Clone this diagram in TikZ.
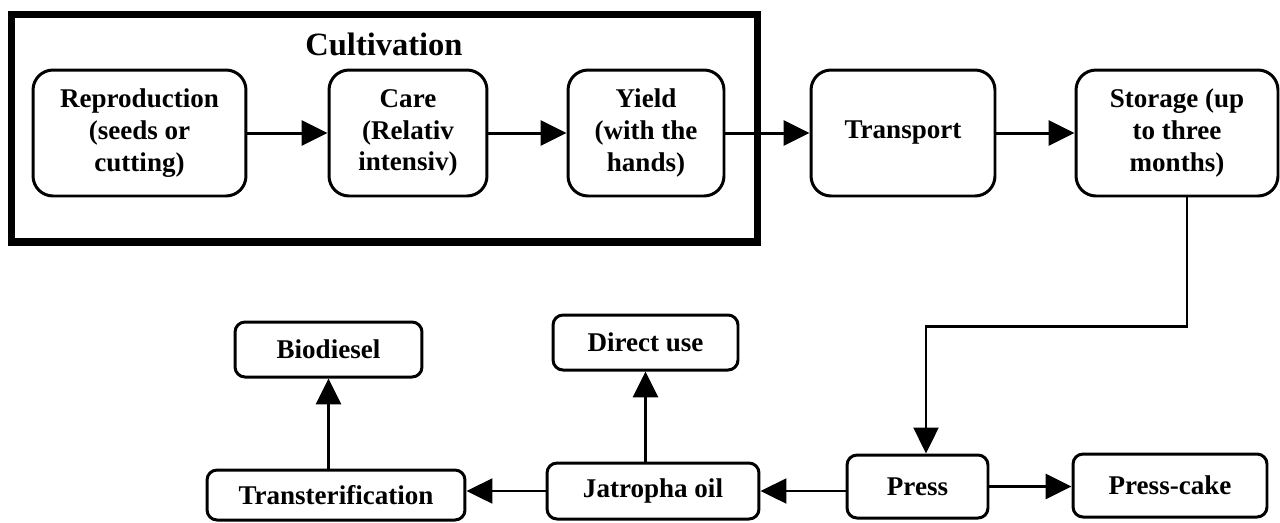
\documentclass[tikz,border=0pt]{standalone}
\usepackage{fontspec}
\setmainfont{Liberation Serif}
\usetikzlibrary{arrows.meta}

\begin{document}
\begin{tikzpicture}[x=0.02cm,y=-0.02cm,
  boxtext/.style={font=\fontsize{15.4}{18.1}\selectfont\bfseries},
  topbox/.style={draw=black, line width=1.7pt, rounded corners=0.4cm, align=center, minimum height=2.52cm, boxtext},
  lowbox/.style={draw=black, line width=1.7pt, rounded corners=0.2cm, align=center, boxtext},
  flow/.style={black, line width=1.7pt, -{Triangle[length=0.52cm,width=0.5cm]}},
  thinflow/.style={flow, line width=1.3pt}]
\tikzstyle{every node}+=[inner sep=0pt]
\useasboundingbox (0,0) rectangle (1280,522);
\node [draw=black, line width=4pt, minimum width=14.94cm, minimum height=4.56cm] (cultframe) at (384.5,128) {};
\node [anchor=base, font=\fontsize{18.5}{22}\selectfont\bfseries] (culttitle) at (384,55) {Cultivation};
\node [topbox, minimum width=4.26cm] (repro) at (139.5,133) {Reproduction\\(seeds or\\cutting)};
\node [topbox, minimum width=3.16cm] (care) at (408,133) {Care\\(Relativ\\intensiv)};
\node [topbox, minimum width=3.12cm] (yield) at (646,133) {Yield\\(with the\\hands)};
\node [topbox, minimum width=3.68cm] (transport) at (903,133) {Transport};
\node [topbox, minimum width=4.04cm] (storage) at (1177,133) {Storage (up\\to three\\months)};
\node [lowbox, minimum width=3.74cm, minimum height=1.1cm] (biodiesel) at (328.5,349.5) {Biodiesel};
\node [lowbox, minimum width=3.7cm, minimum height=1.1cm] (directuse) at (645.5,342.5) {Direct use};
\node [lowbox, minimum width=5.16cm, minimum height=1.0cm] (transest) at (336,495) {Transterification};
\node [lowbox, minimum width=4.24cm, minimum height=1.12cm] (jatoil) at (653,491) {Jatropha oil};
\node [lowbox, minimum width=2.82cm, minimum height=1.26cm] (press) at (917.5,486.5) {Press};
\node [lowbox, minimum width=3.88cm, minimum height=1.26cm] (presscake) at (1170,485.5) {Press-cake};
\draw [flow] (repro) -- (care);
\draw [flow] (care) -- (yield);
\draw [flow] (yield) -- (transport);
\draw [flow] (transport) -- (storage);
\draw [thinflow] ([xshift=0.2cm]storage.south) -- ++(0,129) -| ([xshift=0.17cm]press.north);
\draw [flow] (press.east) -- (press.east -| presscake.west);
\draw [thinflow] (jatoil.east -| press.west) -- (jatoil.east);
\draw [thinflow] (jatoil.west) -- (jatoil.west -| transest.east);
\draw [flow] (directuse.south |- jatoil.north) -- (directuse.south);
\draw [flow] (biodiesel.south |- transest.north) -- (biodiesel.south);
\end{tikzpicture}
\end{document}
